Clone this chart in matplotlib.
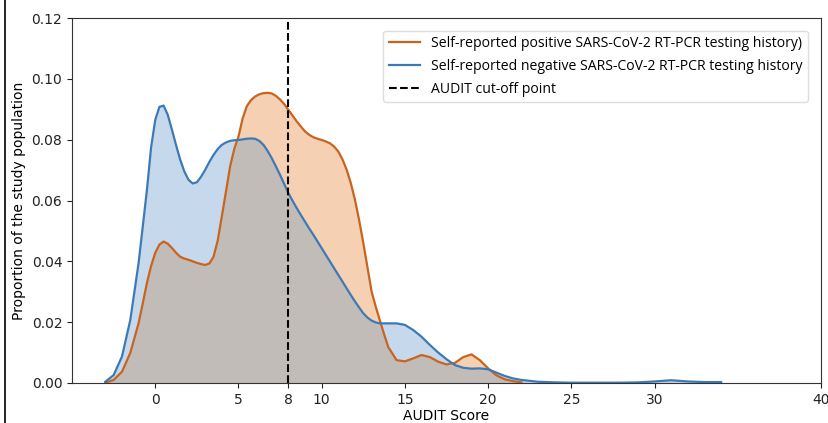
import numpy as np
import matplotlib
matplotlib.use("Agg")
import matplotlib.pyplot as plt
from matplotlib.lines import Line2D

# AUDIT score grid (shared by both density curves)
score = [-3, -2.5, -2, -1.5, -1, -0.75, -0.5, -0.25, 0, 0.25, 0.5, 0.75,
         1, 1.25, 1.5, 1.75, 2, 2.25, 2.5, 2.75, 3, 3.25, 3.5, 3.75,
         4, 4.25, 4.5, 4.75, 5, 5.25, 5.5, 5.75, 6, 6.25, 6.5, 6.75,
         7, 7.25, 7.5, 7.75, 8, 8.25, 8.5, 8.75, 9, 9.25, 9.5, 9.75,
         10, 10.25, 10.5, 10.75, 11, 11.25, 11.5, 11.75, 12, 12.25, 12.5, 12.75,
         13, 13.25, 13.5, 13.75, 14, 14.5, 15, 15.5, 16, 16.5, 17, 17.5,
         18, 18.5, 19, 19.5, 20, 20.5, 21, 21.5, 22, 22.5, 23, 24,
         25, 26, 27, 28, 29, 30, 31, 32, 33, 34]

# negative RT-PCR history
negative = [0.0004, 0.0026, 0.0087, 0.0207, 0.0395, 0.0515, 0.0635, 0.0775,
            0.0865, 0.0908, 0.0912, 0.0882, 0.0833, 0.0782, 0.0734, 0.0695,
            0.0668, 0.0656, 0.0660, 0.0678, 0.0701, 0.0727, 0.0750, 0.0769,
            0.0783, 0.0791, 0.0796, 0.0798, 0.0799, 0.0801, 0.0803, 0.0804,
            0.0803, 0.0796, 0.0783, 0.0763, 0.0739, 0.0712, 0.0684, 0.0654,
            0.0624, 0.0599, 0.0575, 0.0552, 0.0530, 0.0508, 0.0487, 0.0465,
            0.0443, 0.0421, 0.0399, 0.0377, 0.0355, 0.0333, 0.0311, 0.0289,
            0.0268, 0.0248, 0.0229, 0.0215, 0.0205, 0.0199, 0.0196, 0.0196,
            0.0196, 0.0196, 0.0191, 0.0174, 0.0152, 0.0125, 0.0100, 0.0078,
            0.0059, 0.0050, 0.0047, 0.0048, 0.0045, 0.0034, 0.0023, 0.0015,
            0.0010, 0.0007, 0.0004, 0.0002, 0.0001, 0.0001, 0.0001, 0.0001,
            0.0002, 0.0005, 0.0009, 0.0005, 0.0003, 0.0003]

# positive RT-PCR history (ends at score 22)
positive = [0.0001, 0.0010, 0.0037, 0.0099, 0.0197, 0.0262, 0.0329, 0.0385,
            0.0428, 0.0455, 0.0465, 0.0458, 0.0444, 0.0428, 0.0415, 0.0409,
            0.0405, 0.0400, 0.0395, 0.0391, 0.0388, 0.0393, 0.0415, 0.0468,
            0.0548, 0.0630, 0.0713, 0.0770, 0.0810, 0.0870, 0.0910, 0.0930,
            0.0942, 0.0949, 0.0953, 0.0954, 0.0952, 0.0944, 0.0932, 0.0917,
            0.0898, 0.0879, 0.0860, 0.0843, 0.0827, 0.0816, 0.0808, 0.0803,
            0.0799, 0.0794, 0.0788, 0.0777, 0.0761, 0.0735, 0.0701, 0.0657,
            0.0602, 0.0535, 0.0460, 0.0380, 0.0300, 0.0250, 0.0205, 0.0160,
            0.0118, 0.0075, 0.0071, 0.0081, 0.0092, 0.0085, 0.0070, 0.0061,
            0.0066, 0.0085, 0.0094, 0.0075, 0.0048, 0.0025, 0.0012, 0.0006,
            0.0002]

cutoff = 8
xticks = [0, 5, 8, 10, 15, 20, 25, 30, 40]
yticks = [0.00, 0.02, 0.04, 0.06, 0.08, 0.10, 0.12]

x = np.array(score)
neg = np.array(negative)
pos = np.array(positive)
xp = x[:len(pos)]

fig = plt.figure(figsize=(8.29, 4.23), dpi=100, facecolor='w')
ax = fig.add_axes([0.0869, 0.0946, 0.9035, 0.8628])

ax.fill_between(xp, 0, pos, color='#f5d0b2', lw=0)
ax.fill_between(x, 0, neg, color='#c6d9ec', lw=0)
ax.fill_between(xp, 0, np.minimum(pos, neg[:len(pos)]), color='#c2bcb9', lw=0)

ax.plot(xp, pos, color='#c8641e', lw=1.6, solid_joinstyle='round',
        label='Self-reported positive SARS-CoV-2 RT-PCR testing history)')
ax.plot(x, neg, color='#3d7ab5', lw=1.6, solid_joinstyle='round',
        label='Self-reported negative SARS-CoV-2 RT-PCR testing history')
ax.axvline(cutoff, color='black', linestyle='--', lw=1.5, label='AUDIT cut-off point')

ax.set_xlim(-5, 40)
ax.set_ylim(0, 0.12)
ax.set_xticks(xticks)
ax.set_yticks(yticks)
ax.set_yticklabels(['%.2f' % v for v in yticks])
ax.tick_params(labelsize=10, colors='#222222')
ax.set_xlabel('AUDIT Score', fontsize=10, labelpad=2)
ax.set_ylabel('Proportion of the study population', fontsize=10)
for s in ax.spines.values():
    s.set_color('#333333')

leg = ax.legend(loc='upper right', prop={'family': 'Open Sans', 'size': 10.1},
                framealpha=1, edgecolor='#dddddd', handlelength=2.2,
                labelspacing=0.55, bbox_to_anchor=(0.992, 0.985))

# thin border line on the left of the image
fig.add_artist(Line2D([5 / 829, 5 / 829], [0, 1], color='black', lw=1.2,
                      transform=fig.transFigure))

plt.savefig('out.png', dpi=100)
